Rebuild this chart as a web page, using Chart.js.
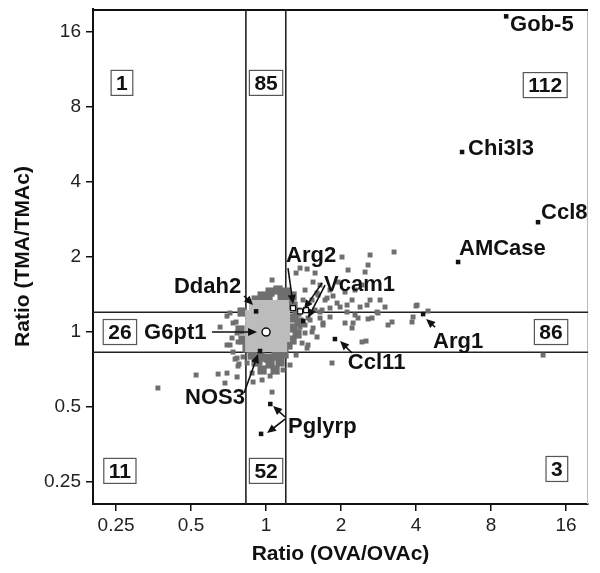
<!DOCTYPE html>
<html>
<head>
<meta charset="utf-8">
<script src="https://cdn.jsdelivr.net/npm/chart.js@4/dist/chart.umd.min.js"></script>
<style>body{margin:0;background:#fff}</style>
</head>
<body>
<canvas id="c" width="600" height="573"></canvas>
<script>
// tick values on both log2 axes
const tickVals = [0.25, 0.5, 1, 2, 4, 8, 16];
const cutLow = 0.83, cutHigh = 1.2;

// scattered genes (dark grey)
const spreadX = [0.737,0.758,0.765,0.772,0.765,0.772,0.946,1.502,1.544,1.434,1.530,1.395,1.474,1.647,1.693,1.806,1.928,2.075,2.114,2.214,
  1.757,1.647,1.840,1.602,1.461,1.602,2.615,3.264,2.567,2.497,2.134,2.018,1.461,1.573,1.544,2.214,2.384,2.543,2.790,4.037,
  3.891,1.693,2.235,2.428,2.520,2.567,2.815,3.088,3.204,3.855,12.94,4.000,4.470,0.368,0.524,0.642,0.697,0.684,0.765,0.779,
  0.751,0.697,0.730,0.808,0.839,0.879,0.887,0.717,0.697,0.654,0.717,1.057,0.964,1.038,1.057,1.320,1.369,1.617,1.725,1.857,
  1.982,2.114,2.276,2.615,2.868,3.003,2.663,2.340,1.806,1.678,1.530,1.434,1.647,1.945,2.276,2.428,1.408,1.474,1.573,1.369,
  1.434,1.248,1.320,1.170,0.737,1.806,2.075];
const spreadY = [1.087,1.097,0.991,0.912,0.786,0.730,0.751,1.117,1.038,0.991,1.000,0.903,0.887,1.138,1.087,1.149,1.307,1.087,1.283,1.038,
  1.369,1.203,0.751,0.955,0.862,1.434,2.038,2.095,1.857,1.741,1.774,2.000,1.790,1.725,1.587,1.344,1.260,1.283,1.203,1.283,
  1.149,1.067,1.087,0.912,0.920,1.128,1.192,1.067,1.097,1.097,0.808,1.272,1.214,0.596,0.672,0.678,0.684,0.624,0.660,0.744,
  0.779,0.887,0.946,0.794,0.751,0.684,0.630,1.192,1.159,1.047,0.887,0.574,0.642,0.666,1.617,1.725,1.806,1.408,1.344,1.395,
  1.260,1.203,1.170,1.344,1.344,1.260,1.138,1.138,1.248,1.225,1.344,1.474,1.544,1.587,1.474,1.544,1.344,1.138,1.225,1.047,
  1.067,0.737,0.808,0.704,0.831,1.474,1.447];

// dense halo round the unchanged genes
const haloX = [0.964,1.038,1.117,1.203,1.272,1.019,1.159,1.248,0.912,1.283,1.332,1.296,1.357,1.283,1.332,1.272,1.225,
  0.801,0.786,0.808,0.839,0.879,0.946,1.019,1.097,1.181,0.912,1.038,1.138,0.964,1.087];
const haloY = [1.395,1.447,1.474,1.447,1.395,1.344,1.369,1.344,1.344,1.272,1.203,1.138,1.097,1.038,0.982,0.929,0.887,
  1.203,1.019,0.929,0.862,0.808,0.794,0.786,0.801,0.816,0.758,0.744,0.758,0.704,0.704];

// unchanged genes (light grey core)
const coreX = [0.903,0.991,1.087,1.170, 0.871,0.955,1.047,1.149,1.181, 0.871,0.955,1.047,1.149,1.181,
  0.871,0.955,1.047,1.149,1.181, 0.871,0.955,1.047,1.149];
const coreY = [1.272,1.272,1.272,1.272, 1.159,1.159,1.159,1.159,1.159, 1.057,1.057,1.057,1.057,1.057,
  0.964,0.964,0.964,0.964,0.964, 0.879,0.879,0.879,0.879];

// named genes (black)
const geneX = [9.2, 6.12, 12.35, 5.9, 4.27, 1.89, 1.04, 0.955, 0.946, 0.912, 1.41];
const geneY = [18.5, 5.28, 2.76, 1.91, 1.18, 0.937, 0.514, 0.39, 0.839, 1.21, 1.107];
const openX = [1.283, 1.37, 1.447];
const openY = [1.248, 1.21, 1.225];
const refX = [1], refY = [1];

// gene labels
const labelText = ['Gob-5','Chi3l3','Ccl8','AMCase','Arg2','Vcam1','Ddah2','G6pt1','NOS3','Pglyrp','Arg1','Ccl11'];
const labelX = [9.54, 6.47, 12.7, 5.95, 1.203, 1.709, 0.427, 0.324, 0.473, 1.226, 4.68, 2.13];
const labelY = [17.07, 5.43, 3.02, 2.15, 2.02, 1.544, 1.516, 0.99, 0.543, 0.416, 0.912, 0.751];

// arrows: from -> to
const arrowFromX = [0.816, 0.607, 0.816, 1.192, 1.192, 1.225, 1.678, 1.725, 4.77, 2.214];
const arrowFromY = [1.395, 1, 0.569, 0.456, 0.447, 1.806, 1.573, 1.544, 1.047, 0.824];
const arrowToX = [0.887, 0.920, 0.929, 1.067, 1.009, 1.283, 1.421, 1.474, 4.39, 1.982];
const arrowToY = [1.283, 1, 0.816, 0.505, 0.393, 1.296, 1.237, 1.138, 1.128, 0.920];

// gene counts per sector
const countText = ['1','85','112','26','86','11','52','3'];
const countX = [0.264, 1, 13.2, 0.259, 13.93, 0.259, 1, 14.7];
const countY = [10, 10, 9.8, 1, 1, 0.277, 0.277, 0.282];

const pts = (xs, ys) => xs.map((x, i) => ({x: x, y: ys[i]}));
const FONT = "'Liberation Sans', Arial, sans-serif";

const decor = {
  id: 'decor',
  beforeDatasetsDraw(chart) {
    const {ctx, chartArea: a} = chart;
    ctx.save();
    ctx.strokeStyle = '#bbb';
    ctx.lineWidth = 1;
    ctx.beginPath();
    ctx.moveTo(a.right - 0.5, a.top);
    ctx.lineTo(a.right - 0.5, a.bottom);
    ctx.stroke();
    ctx.strokeStyle = '#111';
    ctx.lineWidth = 2;
    ctx.beginPath();
    ctx.moveTo(a.left, a.top + 1);
    ctx.lineTo(a.right, a.top + 1);
    ctx.stroke();
    ctx.restore();
  },
  afterDatasetsDraw(chart) {
    const {ctx} = chart;
    const xs = chart.scales.x, ys = chart.scales.y;
    ctx.save();
    // arrows
    ctx.strokeStyle = '#111';
    ctx.fillStyle = '#111';
    ctx.lineWidth = 1.6;
    for (let i = 0; i < arrowFromX.length; i++) {
      const x1 = xs.getPixelForValue(arrowFromX[i]), y1 = ys.getPixelForValue(arrowFromY[i]);
      const x2 = xs.getPixelForValue(arrowToX[i]), y2 = ys.getPixelForValue(arrowToY[i]);
      const ang = Math.atan2(y2 - y1, x2 - x1);
      ctx.beginPath();
      ctx.moveTo(x1, y1);
      ctx.lineTo(x2 - 5 * Math.cos(ang), y2 - 5 * Math.sin(ang));
      ctx.stroke();
      ctx.beginPath();
      ctx.moveTo(x2, y2);
      ctx.lineTo(x2 - 9 * Math.cos(ang) + 4 * Math.sin(ang), y2 - 9 * Math.sin(ang) - 4 * Math.cos(ang));
      ctx.lineTo(x2 - 9 * Math.cos(ang) - 4 * Math.sin(ang), y2 - 9 * Math.sin(ang) + 4 * Math.cos(ang));
      ctx.closePath();
      ctx.fill();
    }
    // gene labels
    ctx.font = 'bold 22px ' + FONT;
    ctx.textAlign = 'left';
    ctx.textBaseline = 'middle';
    labelText.forEach((t, i) => {
      ctx.fillText(t, xs.getPixelForValue(labelX[i]), ys.getPixelForValue(labelY[i]));
    });
    // sector counts
    ctx.font = 'bold 21px ' + FONT;
    ctx.textAlign = 'center';
    countText.forEach((t, i) => {
      const cx = xs.getPixelForValue(countX[i]), cy = ys.getPixelForValue(countY[i]);
      const w = ctx.measureText(t).width + 10, h = 25;
      ctx.fillStyle = '#fff';
      ctx.fillRect(cx - w / 2, cy - h / 2, w, h);
      ctx.strokeStyle = '#555';
      ctx.lineWidth = 1.2;
      ctx.strokeRect(cx - w / 2, cy - h / 2, w, h);
      ctx.fillStyle = '#111';
      ctx.fillText(t, cx, cy + 1);
    });
    ctx.restore();
  }
};

const vline = v => [{x: v, y: 0.204}, {x: v, y: 19.8}];
const hline = v => [{x: 0.202, y: v}, {x: 19.6, y: v}];
const lineDs = d => ({type: 'line', data: d, borderColor: '#222', borderWidth: 1.6, pointRadius: 0, order: 20});

new Chart(document.getElementById('c'), {
  type: 'scatter',
  data: {
    datasets: [
      lineDs(vline(cutLow)), lineDs(vline(cutHigh)), lineDs(hline(cutLow)), lineDs(hline(cutHigh)),
      {data: pts(spreadX, spreadY), pointStyle: 'rect', pointRadius: 3.5, backgroundColor: '#6f6f6f', borderWidth: 0, order: 9},
      {data: pts(haloX, haloY), pointStyle: 'rect', pointRadius: 6.5, backgroundColor: '#6f6f6f', borderWidth: 0, order: 8},
      {data: pts(coreX, coreY), pointStyle: 'rect', pointRadius: 8.5, backgroundColor: '#bcbcbc', borderWidth: 0, order: 7},
      {data: pts(geneX, geneY), pointStyle: 'rect', pointRadius: 3.2, backgroundColor: '#111', borderWidth: 0, order: 3},
      {data: pts(openX, openY), pointStyle: 'rect', pointRadius: 3.5, backgroundColor: '#fff', borderColor: '#111', borderWidth: 1.2, order: 2},
      {data: pts(refX, refY), pointStyle: 'circle', pointRadius: 4, backgroundColor: '#fff', borderColor: '#111', borderWidth: 1.5, order: 1}
    ]
  },
  options: {
    responsive: false,
    animation: false,
    devicePixelRatio: 1,
    layout: {padding: {top: 9, right: 12, left: 0, bottom: 0}},
    plugins: {legend: {display: false}, tooltip: {enabled: false}},
    scales: {
      x: {
        type: 'logarithmic', min: 0.202, max: 19.6,
        afterBuildTicks: s => { s.ticks = tickVals.map(v => ({value: v})); },
        afterFit: s => { s.height = 69; s.paddingLeft = 0; s.paddingRight = 0; },
        ticks: {color: '#222', font: {family: FONT, size: 19}, padding: 3, autoSkip: false, maxRotation: 0,
          callback: v => String(v)},
        grid: {drawOnChartArea: false, drawTicks: true, tickLength: 7, color: '#111', lineWidth: 1.5},
        border: {color: '#111', width: 2},
        title: {display: true, text: 'Ratio (OVA/OVAc)', color: '#111', font: {family: FONT, size: 21, weight: 'bold'}, padding: {bottom: 6}}
      },
      y: {
        type: 'logarithmic', min: 0.204, max: 19.8,
        afterBuildTicks: s => { s.ticks = tickVals.map(v => ({value: v})); },
        afterFit: s => { s.width = 93; s.paddingTop = 0; s.paddingBottom = 0; },
        ticks: {color: '#222', font: {family: FONT, size: 19}, padding: 5, autoSkip: false,
          callback: v => String(v)},
        grid: {drawOnChartArea: false, drawTicks: true, tickLength: 7, color: '#111', lineWidth: 1.5},
        border: {color: '#111', width: 2},
        title: {display: true, text: 'Ratio (TMA/TMAc)', color: '#111', font: {family: FONT, size: 21, weight: 'bold'}, padding: {top: 11}}
      }
    }
  },
  plugins: [decor]
});
</script>
</body>
</html>
